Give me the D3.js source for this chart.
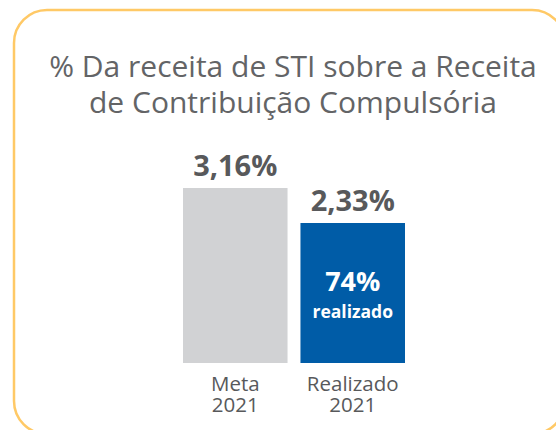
<!DOCTYPE html>
<html>
<head>
<meta charset="utf-8">
<script src="https://cdn.jsdelivr.net/npm/d3@7"></script>
<style>
  html, body { margin: 0; padding: 0; background: #fff; }
  svg { display: block; }
  text { font-family: "Open Sans", "Noto Sans", sans-serif; }
</style>
</head>
<body>
<svg id="chart" width="556" height="430"></svg>
<script>
// Chart data
const titleLines = ["% Da receita de STI sobre a Receita", "de Contribuição Compulsória"];
const categories = [["Meta", "2021"], ["Realizado", "2021"]];
const values = [3.16, 2.33];
const valueLabels = ["3,16%", "2,33%"];
const barColors = ["#d1d2d4", "#005ca7"];
const achievedLabel = ["74%", "realizado"];

const svg = d3.select("#chart");

// Rounded card frame
svg.append("rect")
  .attr("x", 14).attr("y", 10)
  .attr("width", 551).attr("height", 424)
  .attr("rx", 33).attr("ry", 33)
  .attr("fill", "#fff")
  .attr("stroke", "#ffc966")
  .attr("stroke-width", 2.5);

// Title, one text element per line
svg.append("g")
  .selectAll("text")
  .data(titleLines)
  .join("text")
  .attr("x", 293)
  .attr("y", (d, i) => 77 + i * 36)
  .attr("text-anchor", "middle")
  .attr("fill", "#636466")
  .attr("font-size", 30)
  .text(d => d);

// Scales
const keys = categories.map(c => c.join(" "));
const x = d3.scaleBand()
  .domain(keys)
  .range([183, 405])
  .paddingInner(0.11)
  .paddingOuter(0);

const y = d3.scaleLinear()
  .domain([-0.99, 3.16])
  .range([363, 188]);

const rows = keys.map((k, i) => ({ key: k, cat: categories[i], value: values[i], label: valueLabels[i], color: barColors[i] }));
const mid = d => x(d.key) + x.bandwidth() / 2;

// Bars
svg.append("g")
  .selectAll("rect")
  .data(rows)
  .join("rect")
  .attr("x", d => x(d.key))
  .attr("y", d => y(d.value))
  .attr("width", x.bandwidth())
  .attr("height", d => y(y.domain()[0]) - y(d.value))
  .attr("fill", d => d.color);

// Value labels above bars
svg.append("g")
  .selectAll("text")
  .data(rows)
  .join("text")
  .attr("x", mid)
  .attr("y", d => y(d.value) - 12)
  .attr("text-anchor", "middle")
  .attr("font-weight", 700)
  .attr("font-size", 29)
  .attr("fill", "#58595b")
  .text(d => d.label);

// Achievement note inside the second bar
const cx2 = mid(rows[1]);
svg.append("text")
  .attr("x", cx2).attr("y", 291)
  .attr("text-anchor", "middle")
  .attr("font-weight", 700)
  .attr("font-size", 27)
  .attr("fill", "#fff")
  .text(achievedLabel[0]);
svg.append("text")
  .attr("x", cx2).attr("y", 318)
  .attr("text-anchor", "middle")
  .attr("font-weight", 700)
  .attr("font-size", 17.5)
  .attr("fill", "#fff")
  .text(achievedLabel[1]);

// Category labels below bars, one text element per line
const catLines = rows.flatMap(d => d.cat.map((t, i) => ({ t, i, cx: mid(d) })));
svg.append("g")
  .selectAll("text")
  .data(catLines)
  .join("text")
  .attr("x", d => d.cx)
  .attr("y", d => 391 + d.i * 21)
  .attr("text-anchor", "middle")
  .attr("font-size", 20.5)
  .attr("fill", "#58595b")
  .text(d => d.t);
</script>
</body>
</html>
